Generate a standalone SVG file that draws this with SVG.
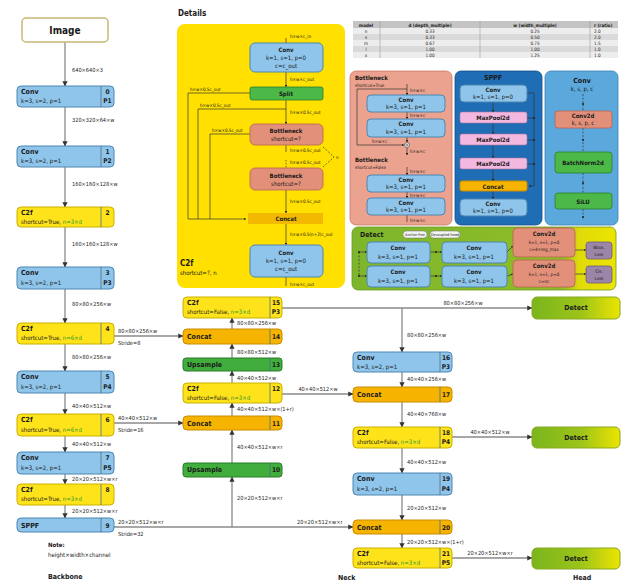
<svg xmlns="http://www.w3.org/2000/svg" width="622" height="588" viewBox="0 0 622 588">
<style>
text{font-family:"Liberation Sans Narrow","DejaVu Sans Condensed","Liberation Sans",sans-serif;fill:#1a1a1a}
.tb{font-size:7px;font-weight:bold}
.tp{font-size:6px}
.tn{font-size:6.5px;font-weight:bold;text-anchor:middle}
.dim{font-size:5.6px}
.sm{font-size:4.6px}
.mid{text-anchor:middle}
.g{fill:#2e9a2e}
.conv{fill:#8fc5ea;stroke:#4d86b3;stroke-width:1}
.c2f{fill:#ffe31a;stroke:#c9b000;stroke-width:1}
.concat{fill:#f6b400;stroke:#c98c00;stroke-width:1}
.up{fill:#40ad3c;stroke:#2b7d28;stroke-width:1}
.det{fill:url(#gdet);stroke:#8aa820;stroke-width:1}
.salmon{fill:#e3907a;stroke:#b7624f;stroke-width:0.8}
.pink{fill:#f2b8e0;stroke:#b07aa0;stroke-width:0.6}
.green{fill:#4cb848;stroke:#2b7d28;stroke-width:0.8}
.loss{fill:#9c86a8;stroke:#6e5a7c;stroke-width:0.8}
.div{stroke:#4d6f8a;stroke-width:0.8}
.ln{stroke:#8a8a8a;stroke-width:1.3;fill:none}
.lk{stroke:#333;stroke-width:0.7;fill:none}
.ld{stroke:#333;stroke-width:0.7;fill:none;stroke-dasharray:2 1.5}
</style>
<defs>
<marker id="ar" viewBox="0 0 6 6" refX="5.5" refY="3" markerWidth="4" markerHeight="4" orient="auto"><path d="M0,0L6,3L0,6z" fill="#333"/></marker>
<marker id="as" viewBox="0 0 6 6" refX="5.5" refY="3" markerWidth="3" markerHeight="3" orient="auto"><path d="M0,0L6,3L0,6z" fill="#222"/></marker>
<linearGradient id="gdet" x1="0" y1="0" x2="1" y2="0"><stop offset="0" stop-color="#7ab51d"/><stop offset="0.55" stop-color="#9cc41a"/><stop offset="1" stop-color="#ece400"/></linearGradient>
<linearGradient id="gpan" x1="0" y1="0" x2="1" y2="0"><stop offset="0" stop-color="#7db52c"/><stop offset="0.8" stop-color="#8fbd26"/><stop offset="0.86" stop-color="#e0da0a"/><stop offset="1" stop-color="#ece400"/></linearGradient>
</defs>

<!-- Connectors -->
<g id="connectors">
<g class="ln" marker-end="url(#ar)">
<line x1="65" y1="42" x2="65" y2="86"/>
<line x1="65" y1="107" x2="65" y2="146"/>
<line x1="65" y1="167" x2="65" y2="207"/>
<line x1="65" y1="227" x2="65" y2="267"/>
<line x1="65" y1="289" x2="65" y2="323"/>
<line x1="65" y1="344" x2="65" y2="371"/>
<line x1="65" y1="393" x2="65" y2="414"/>
<line x1="65" y1="436" x2="65" y2="452"/>
<line x1="65" y1="474" x2="65" y2="484"/>
<line x1="65" y1="505" x2="65" y2="518"/>
<line x1="114" y1="336" x2="183" y2="336"/>
<line x1="114" y1="423" x2="183" y2="423"/>
<line x1="114" y1="527" x2="353" y2="527"/>
<line x1="232" y1="527" x2="232" y2="477"/>
<line x1="232" y1="463" x2="232" y2="430"/>
<line x1="232" y1="416" x2="232" y2="403"/>
<line x1="232" y1="383" x2="232" y2="371"/>
<line x1="232" y1="358" x2="232" y2="344"/>
<line x1="232" y1="329" x2="232" y2="318"/>
<line x1="282" y1="308" x2="532" y2="308"/>
<line x1="282" y1="394" x2="353" y2="394"/>
<line x1="402" y1="308" x2="402" y2="352"/>
<line x1="402" y1="372" x2="402" y2="387"/>
<line x1="402" y1="402" x2="402" y2="427"/>
<line x1="402" y1="448" x2="402" y2="473"/>
<line x1="402" y1="495" x2="402" y2="520"/>
<line x1="402" y1="534" x2="402" y2="548"/>
<line x1="452" y1="437" x2="532" y2="437"/>
<line x1="452" y1="558" x2="532" y2="558"/>
</g>
<g class="dim">
<text x="72" y="72">640×640×3</text>
<text x="72" y="122">320×320×64×w</text>
<text x="72" y="186">160×160×128×w</text>
<text x="72" y="246">160×160×128×w</text>
<text x="72" y="306">80×80×256×w</text>
<text x="72" y="359">80×80×256×w</text>
<text x="72" y="408">40×40×512×w</text>
<text x="72" y="446">40×40×512×w</text>
<text x="72" y="481">20×20×512×w×r</text>
<text x="72" y="513">20×20×512×w×r</text>
<text x="118" y="333">80×80×256×w</text>
<text x="118" y="345">Stride=8</text>
<text x="118" y="420">40×40×512×w</text>
<text x="118" y="432">Stride=16</text>
<text x="118" y="524">20×20×512×w×r</text>
<text x="118" y="536">Stride=32</text>
<text x="297" y="524">20×20×512×w×r</text>
<text x="237" y="325">80×80×256×w</text>
<text x="237" y="354">80×80×512×w</text>
<text x="237" y="380">40×40×512×w</text>
<text x="237" y="411">40×40×512×w×(1+r)</text>
<text x="237" y="449">40×40×512×w×r</text>
<text x="237" y="500">20×20×512×w×r</text>
<text x="318" y="391" class="mid">40×40×512×w</text>
<text x="463" y="305" class="mid">80×80×256×w</text>
<text x="407" y="337">80×80×256×w</text>
<text x="407" y="381">40×40×256×w</text>
<text x="407" y="416">40×40×768×w</text>
<text x="407" y="464">40×40×512×w</text>
<text x="407" y="510">20×20×512×w</text>
<text x="407" y="544">20×20×512×w×(1+r)</text>
<text x="490" y="434" class="mid">40×40×512×w</text>
<text x="490" y="555" class="mid">20×20×512×w×r</text>
</g>
</g>

<!-- Backbone -->
<g id="image"><rect x="22" y="18" width="86" height="24" rx="4" fill="#fff" stroke="#c8b878" stroke-width="1.5"/><text x="65" y="34" class="mid" style="font-size:10px;font-weight:bold">Image</text></g>
<g id="b0"><rect class="conv" x="17" y="86" width="97" height="21" rx="4"/><line class="div" x1="101" y1="86" x2="101" y2="107"/><text class="tb" x="21" y="94">Conv</text><text class="tp" x="21" y="103">k=3, s=2, p=1</text><text class="tn" x="107.5" y="94">0</text><text class="tn" x="107.5" y="103">P1</text></g>
<g id="b1"><rect class="conv" x="17" y="146" width="97" height="21" rx="4"/><line class="div" x1="101" y1="146" x2="101" y2="167"/><text class="tb" x="21" y="154">Conv</text><text class="tp" x="21" y="163">k=3, s=2, p=1</text><text class="tn" x="107.5" y="154">1</text><text class="tn" x="107.5" y="163">P2</text></g>
<g id="b2"><rect class="c2f" x="17" y="207" width="97" height="20" rx="4"/><line class="div" x1="101" y1="207" x2="101" y2="227"/><text class="tb" x="21" y="215">C2f</text><text class="tp" x="21" y="224">shortcut=True, <tspan class="g">n=3×d</tspan></text><text class="tn" x="107.5" y="215">2</text></g>
<g id="b3"><rect class="conv" x="17" y="267" width="97" height="22" rx="4"/><line class="div" x1="101" y1="267" x2="101" y2="289"/><text class="tb" x="21" y="275">Conv</text><text class="tp" x="21" y="285">k=3, s=2, p=1</text><text class="tn" x="107.5" y="275">3</text><text class="tn" x="107.5" y="285">P3</text></g>
<g id="b4"><rect class="c2f" x="17" y="323" width="97" height="21" rx="4"/><line class="div" x1="101" y1="323" x2="101" y2="344"/><text class="tb" x="21" y="331">C2f</text><text class="tp" x="21" y="340">shortcut=True, <tspan class="g">n=6×d</tspan></text><text class="tn" x="107.5" y="331">4</text></g>
<g id="b5"><rect class="conv" x="17" y="371" width="97" height="22" rx="4"/><line class="div" x1="101" y1="371" x2="101" y2="393"/><text class="tb" x="21" y="379">Conv</text><text class="tp" x="21" y="389">k=3, s=2, p=1</text><text class="tn" x="107.5" y="379">5</text><text class="tn" x="107.5" y="389">P4</text></g>
<g id="b6"><rect class="c2f" x="17" y="414" width="97" height="22" rx="4"/><line class="div" x1="101" y1="414" x2="101" y2="436"/><text class="tb" x="21" y="422">C2f</text><text class="tp" x="21" y="432">shortcut=True, <tspan class="g">n=6×d</tspan></text><text class="tn" x="107.5" y="422">6</text></g>
<g id="b7"><rect class="conv" x="17" y="452" width="97" height="22" rx="4"/><line class="div" x1="101" y1="452" x2="101" y2="474"/><text class="tb" x="21" y="460">Conv</text><text class="tp" x="21" y="470">k=3, s=2, p=1</text><text class="tn" x="107.5" y="460">7</text><text class="tn" x="107.5" y="470">P5</text></g>
<g id="b8"><rect class="c2f" x="17" y="484" width="97" height="21" rx="4"/><line class="div" x1="101" y1="484" x2="101" y2="505"/><text class="tb" x="21" y="492">C2f</text><text class="tp" x="21" y="501">shortcut=True, <tspan class="g">n=3×d</tspan></text><text class="tn" x="107.5" y="492">8</text></g>
<g id="b9"><rect class="conv" x="17" y="518" width="97" height="14" rx="4"/><line class="div" x1="101" y1="518" x2="101" y2="532"/><text class="tb" x="21" y="528">SPPF</text><text class="tn" x="107.5" y="528">9</text></g>
<g id="note"><text class="tp" x="48" y="547" style="font-weight:bold">Note:</text><text class="tp" x="48" y="557">height×width×channel</text></g>
<text x="48" y="579" style="font-size:7px;font-weight:bold">Backbone</text>
<text x="338" y="580" style="font-size:7px;font-weight:bold">Neck</text>
<text x="573" y="580" style="font-size:7px;font-weight:bold">Head</text>

<!-- Neck left -->
<g id="n15"><rect class="c2f" x="183" y="297" width="99" height="21" rx="4"/><line class="div" x1="270" y1="297" x2="270" y2="318"/><text class="tb" x="187" y="305">C2f</text><text class="tp" x="187" y="314">shortcut=False, <tspan class="g">n=3×d</tspan></text><text class="tn" x="276" y="305">15</text><text class="tn" x="276" y="314">P3</text></g>
<g id="n14"><rect class="concat" x="183" y="329" width="99" height="15" rx="4"/><line class="div" x1="270" y1="329" x2="270" y2="344"/><text class="tb" x="187" y="339">Concat</text><text class="tn" x="276" y="339">14</text></g>
<g id="n13"><rect class="up" x="183" y="358" width="99" height="13" rx="3"/><line class="div" x1="270" y1="358" x2="270" y2="371"/><text class="tb" x="187" y="367">Upsample</text><text class="tn" x="276" y="367">13</text></g>
<g id="n12"><rect class="c2f" x="183" y="383" width="99" height="20" rx="4"/><line class="div" x1="270" y1="383" x2="270" y2="403"/><text class="tb" x="187" y="391">C2f</text><text class="tp" x="187" y="400">shortcut=False, <tspan class="g">n=3×d</tspan></text><text class="tn" x="276" y="391">12</text></g>
<g id="n11"><rect class="concat" x="183" y="416" width="99" height="14" rx="4"/><line class="div" x1="270" y1="416" x2="270" y2="430"/><text class="tb" x="187" y="426">Concat</text><text class="tn" x="276" y="426">11</text></g>
<g id="n10"><rect class="up" x="183" y="463" width="99" height="14" rx="3"/><line class="div" x1="270" y1="463" x2="270" y2="477"/><text class="tb" x="187" y="472">Upsample</text><text class="tn" x="276" y="472">10</text></g>

<!-- Neck right -->
<g id="n16"><rect class="conv" x="353" y="352" width="99" height="20" rx="4"/><line class="div" x1="440" y1="352" x2="440" y2="372"/><text class="tb" x="357" y="360">Conv</text><text class="tp" x="357" y="369">k=3, s=2, p=1</text><text class="tn" x="446" y="360">16</text><text class="tn" x="446" y="369">P3</text></g>
<g id="n17"><rect class="concat" x="353" y="387" width="99" height="15" rx="4"/><line class="div" x1="440" y1="387" x2="440" y2="402"/><text class="tb" x="357" y="397">Concat</text><text class="tn" x="446" y="397">17</text></g>
<g id="n18"><rect class="c2f" x="353" y="427" width="99" height="21" rx="4"/><line class="div" x1="440" y1="427" x2="440" y2="448"/><text class="tb" x="357" y="435">C2f</text><text class="tp" x="357" y="444">shortcut=False, <tspan class="g">n=3×d</tspan></text><text class="tn" x="446" y="435">18</text><text class="tn" x="446" y="444">P4</text></g>
<g id="n19"><rect class="conv" x="353" y="473" width="99" height="22" rx="4"/><line class="div" x1="440" y1="473" x2="440" y2="495"/><text class="tb" x="357" y="481">Conv</text><text class="tp" x="357" y="491">k=3, s=2, p=1</text><text class="tn" x="446" y="481">19</text><text class="tn" x="446" y="491">P4</text></g>
<g id="n20"><rect class="concat" x="353" y="520" width="99" height="14" rx="4"/><line class="div" x1="440" y1="520" x2="440" y2="534"/><text class="tb" x="357" y="530">Concat</text><text class="tn" x="446" y="530">20</text></g>
<g id="n21"><rect class="c2f" x="353" y="548" width="99" height="20" rx="4"/><line class="div" x1="440" y1="548" x2="440" y2="568"/><text class="tb" x="357" y="556">C2f</text><text class="tp" x="357" y="565">shortcut=False, <tspan class="g">n=3×d</tspan></text><text class="tn" x="446" y="556">21</text><text class="tn" x="446" y="565">P5</text></g>

<!-- Head -->
<g id="d1"><rect class="det" x="532" y="297" width="88" height="22" rx="5"/><text class="tb mid" x="576" y="310">Detect</text></g>
<g id="d2"><rect class="det" x="532" y="427" width="88" height="21" rx="5"/><text class="tb mid" x="576" y="440">Detect</text></g>
<g id="d3"><rect class="det" x="532" y="548" width="88" height="21" rx="5"/><text class="tb mid" x="576" y="561">Detect</text></g>

<!-- Details: C2f -->
<text x="178" y="16" style="font-size:8px;font-weight:bold">Details</text>
<g id="det-c2f">
<rect x="177" y="24" width="168" height="264" rx="8" fill="#ffe000"/>
<g class="lk" marker-end="url(#as)">
<line x1="286" y1="72" x2="286" y2="87"/>
<line x1="286" y1="100" x2="286" y2="124"/>
<line x1="286" y1="190" x2="286" y2="213"/>
<line x1="286" y1="224" x2="286" y2="245"/>
<polyline points="188,219 246,219"/>
</g>
<g class="lk">
<polyline points="250,93 188,93 188,219"/>
<polyline points="286,109 198,109 198,219"/>
<polyline points="250,134 210,134 210,219"/>
<line x1="286" y1="145" x2="286" y2="152"/>
<line x1="286" y1="160" x2="286" y2="168" stroke-dasharray="1.5 1.5"/>
<line x1="286" y1="38" x2="286" y2="43"/>
<line x1="286" y1="277" x2="286" y2="286"/>
</g>
<polyline class="ld" points="323,147 334,157 323,167"/>
<text class="sm" x="336" y="159">n</text>
<g class="sm">
<text x="290" y="38">h×w×c_in</text>
<text x="290" y="81">h×w×c_out</text>
<text x="190" y="91">h×w×0.5c_out</text>
<text x="200" y="107">h×w×0.5c_out</text>
<text x="212" y="132">h×w×0.5c_out</text>
<text x="290" y="114">h×w×0.5c_out</text>
<text x="290" y="152">h×w×0.5c_out</text>
<text x="290" y="164">h×w×0.5c_out</text>
<text x="290" y="203">h×w×0.5c_out</text>
<text x="290" y="236">h×w×0.5(n+2)c_out</text>
<text x="290" y="286">h×w×c_out</text>
</g>
<rect class="conv" x="250" y="43" width="73" height="29" rx="5"/>
<text class="tp mid" x="286" y="52" style="font-weight:bold">Conv</text><text class="tp mid" x="286" y="60">k=1, s=1, p=0</text><text class="tp mid" x="286" y="68">c=c_out</text>
<rect class="green" x="250" y="87" width="73" height="13" rx="2"/>
<text class="tp mid" x="286" y="96" style="font-weight:bold">Split</text>
<rect class="salmon" x="250" y="124" width="73" height="21" rx="5"/>
<text class="tp mid" x="286" y="133" style="font-weight:bold">Bottleneck</text><text class="tp mid" x="286" y="141">shortcut=?</text>
<rect class="salmon" x="250" y="168" width="73" height="22" rx="5"/>
<text class="tp mid" x="286" y="178" style="font-weight:bold">Bottleneck</text><text class="tp mid" x="286" y="186">shortcut=?</text>
<rect x="248" y="213" width="75" height="11" fill="#f3b800"/>
<text class="tp mid" x="286" y="221" style="font-weight:bold">Concat</text>
<rect class="conv" x="250" y="245" width="73" height="32" rx="5"/>
<text class="tp mid" x="286" y="255" style="font-weight:bold">Conv</text><text class="tp mid" x="286" y="263">k=1, s=1, p=0</text><text class="tp mid" x="286" y="271">c=c_out</text>
<text x="180" y="266" style="font-size:8px;font-weight:bold">C2f</text>
<text class="tp" x="180" y="275">shortcut=?, n</text>
</g>

<!-- Table -->
<g id="table">
<rect x="353" y="21" width="265" height="7" fill="#c4c4c4"/>
<rect x="353" y="28" width="265" height="6" fill="#ededed"/>
<rect x="353" y="34" width="265" height="6" fill="#dadada"/>
<rect x="353" y="40" width="265" height="6" fill="#ededed"/>
<rect x="353" y="46" width="265" height="6" fill="#dadada"/>
<rect x="353" y="52" width="265" height="6" fill="#ededed"/>
<g stroke="#9a9a9a" stroke-width="0.6"><line x1="380" y1="21" x2="380" y2="58"/><line x1="480" y1="21" x2="480" y2="58"/><line x1="590" y1="21" x2="590" y2="58"/></g>
<g class="sm">
<text class="mid" x="366" y="26.5" style="font-weight:bold">model</text>
<text class="mid" x="430" y="26.5" style="font-weight:bold">d (depth_multiple)</text>
<text class="mid" x="535" y="26.5" style="font-weight:bold">w (width_multiple)</text>
<text x="594" y="26.5" style="font-weight:bold">r (ratio)</text>
<text class="mid" x="366" y="33">n</text><text class="mid" x="430" y="33">0.33</text><text class="mid" x="535" y="33">0.25</text><text x="594" y="33">2.0</text>
<text class="mid" x="366" y="39">s</text><text class="mid" x="430" y="39">0.33</text><text class="mid" x="535" y="39">0.50</text><text x="594" y="39">2.0</text>
<text class="mid" x="366" y="45">m</text><text class="mid" x="430" y="45">0.67</text><text class="mid" x="535" y="45">0.75</text><text x="594" y="45">1.5</text>
<text class="mid" x="366" y="51">l</text><text class="mid" x="430" y="51">1.00</text><text class="mid" x="535" y="51">1.00</text><text x="594" y="51">1.0</text>
<text class="mid" x="366" y="57">x</text><text class="mid" x="430" y="57">1.00</text><text class="mid" x="535" y="57">1.25</text><text x="594" y="57">1.0</text>
</g>
</g>

<!-- Details: Bottleneck -->
<g id="det-bottleneck">
<rect x="350" y="71" width="102" height="154" rx="6" fill="#eba28e" stroke="#c87a66" stroke-width="0.8"/>
<text class="tp" x="355" y="80" style="font-weight:bold">Bottleneck</text>
<text class="sm" x="355" y="87">shortcut=True</text>
<g class="lk" marker-end="url(#as)">
<line x1="407" y1="84" x2="407" y2="95"/>
<line x1="407" y1="112" x2="407" y2="119"/>
<line x1="407" y1="137" x2="407" y2="142"/>
<polyline points="407,89 357,89 357,145 404,145"/>
<line x1="407" y1="148" x2="407" y2="155"/>
<line x1="407" y1="167" x2="407" y2="175"/>
<line x1="407" y1="192" x2="407" y2="198"/>
</g>
<line class="lk" x1="407" y1="215" x2="407" y2="222"/>
<circle cx="407" cy="145" r="2.5" fill="#fff" stroke="#333" stroke-width="0.6"/>
<path d="M405.5,145h3M407,143.5v3" stroke="#333" stroke-width="0.6"/>
<g class="sm">
<text x="410" y="92">h×w×c</text>
<text x="410" y="117">h×w×c</text>
<text x="372" y="143">h×w×c</text>
<text x="410" y="153">h×w×c</text>
<text x="410" y="173">h×w×c</text>
<text x="410" y="197">h×w×c</text>
<text x="410" y="222">h×w×c</text>
</g>
<text class="tp" x="355" y="162" style="font-weight:bold">Bottleneck</text>
<text class="sm" x="355" y="169">shortcut=False</text>
<rect class="conv" x="367" y="95" width="78" height="17" rx="4"/><text class="tp mid" x="406" y="102" style="font-weight:bold">Conv</text><text class="tp mid" x="406" y="109">k=3, s=1, p=1</text>
<rect class="conv" x="367" y="119" width="78" height="18" rx="4"/><text class="tp mid" x="406" y="126" style="font-weight:bold">Conv</text><text class="tp mid" x="406" y="134">k=3, s=1, p=1</text>
<rect class="conv" x="367" y="175" width="78" height="17" rx="4"/><text class="tp mid" x="406" y="182" style="font-weight:bold">Conv</text><text class="tp mid" x="406" y="189">k=3, s=1, p=1</text>
<rect class="conv" x="367" y="198" width="78" height="17" rx="4"/><text class="tp mid" x="406" y="205" style="font-weight:bold">Conv</text><text class="tp mid" x="406" y="212">k=3, s=1, p=1</text>
</g>

<!-- Details: SPPF -->
<g id="det-sppf">
<rect x="455" y="71" width="87" height="154" rx="6" fill="#1f6db5" stroke="#154e85" stroke-width="0.8"/>
<text class="tb mid" x="493" y="80">SPPF</text>
<g class="lk" marker-end="url(#as)">
<line x1="493" y1="102" x2="493" y2="112"/>
<line x1="493" y1="123" x2="493" y2="134"/>
<line x1="493" y1="145" x2="493" y2="158"/>
<line x1="493" y1="169" x2="493" y2="181"/>
<line x1="493" y1="191" x2="493" y2="199"/>
<polyline points="534,118 534,186 529,186"/>
</g>
<g class="lk"><line x1="527" y1="93" x2="534" y2="93"/><line x1="534" y1="93" x2="534" y2="118"/><line x1="527" y1="118" x2="534" y2="118"/><line x1="527" y1="140" x2="534" y2="140"/><line x1="527" y1="164" x2="534" y2="164"/></g>
<g fill="#222"><circle cx="534" cy="118" r="1"/><circle cx="534" cy="140" r="1"/><circle cx="534" cy="164" r="1"/></g>
<rect class="conv" x="460" y="85" width="67" height="17" rx="4"/><text class="tp mid" x="493" y="92" style="font-weight:bold">Conv</text><text class="tp mid" x="493" y="99">k=1, s=1, p=0</text>
<rect class="pink" x="460" y="112" width="67" height="11" rx="2"/><text class="tp mid" x="493" y="120" style="font-weight:bold">MaxPool2d</text>
<rect class="pink" x="460" y="134" width="67" height="11" rx="2"/><text class="tp mid" x="493" y="142" style="font-weight:bold">MaxPool2d</text>
<rect class="pink" x="460" y="158" width="67" height="11" rx="2"/><text class="tp mid" x="493" y="166" style="font-weight:bold">MaxPool2d</text>
<rect class="concat" x="460" y="181" width="67" height="10" rx="2"/><text class="tp mid" x="493" y="188.5" style="font-weight:bold">Concat</text>
<rect class="conv" x="460" y="199" width="67" height="17" rx="4"/><text class="tp mid" x="493" y="206" style="font-weight:bold">Conv</text><text class="tp mid" x="493" y="213">k=1, s=1, p=0</text>
</g>

<!-- Details: Conv -->
<g id="det-conv">
<rect x="545" y="71" width="73" height="154" rx="6" fill="#5ba9dc" stroke="#3d82b5" stroke-width="0.8"/>
<text class="tb mid" x="582" y="83">Conv</text>
<text class="tp mid" x="582" y="91">k, s, p, c</text>
<g class="ld"><line x1="583" y1="94" x2="583" y2="111"/><line x1="583" y1="128" x2="583" y2="152"/><line x1="583" y1="173" x2="583" y2="193"/><line x1="583" y1="209" x2="583" y2="220"/></g>
<g fill="#222"><circle cx="583" cy="104" r="1"/><circle cx="583" cy="140" r="1"/><circle cx="583" cy="183" r="1"/><circle cx="583" cy="217" r="1"/></g>
<rect class="salmon" x="555" y="111" width="57" height="17" rx="3"/><text class="tp mid" x="583" y="118" style="font-weight:bold">Conv2d</text><text class="tp mid" x="583" y="125">k, s, p, c</text>
<rect class="green" x="555" y="152" width="57" height="21" rx="3"/><text class="tp mid" x="583" y="165" style="font-weight:bold">BatchNorm2d</text>
<rect class="green" x="555" y="193" width="57" height="16" rx="3"/><text class="tp mid" x="583" y="203.5" style="font-weight:bold">SiLU</text>
</g>

<!-- Details: Detect -->
<g id="det-detect">
<rect x="352" y="227" width="264" height="63" rx="6" fill="url(#gpan)" stroke="#6a9a20" stroke-width="0.8"/>
<text class="tb" x="360" y="237">Detect</text>
<rect x="403" y="231" width="24" height="7" rx="3.5" fill="#f4f4f4" stroke="#777" stroke-width="0.5"/><text class="mid" x="415" y="236.2" style="font-size:3.8px">Anchor-free</text>
<rect x="430" y="231" width="30" height="7" rx="3.5" fill="#f4f4f4" stroke="#777" stroke-width="0.5"/><text class="mid" x="445" y="236.2" style="font-size:3.8px">Decoupled-head</text>
<line class="ld" x1="359" y1="252" x2="359" y2="276"/>
<g class="lk" marker-end="url(#as)">
<line x1="359" y1="252" x2="367" y2="252"/><line x1="359" y1="276" x2="367" y2="276"/>
<line x1="430" y1="252" x2="442" y2="252"/><line x1="430" y1="276" x2="442" y2="276"/>
<line x1="507" y1="252" x2="513" y2="246"/><line x1="507" y1="276" x2="513" y2="274"/>
<line x1="575" y1="250" x2="586" y2="250"/><line x1="575" y1="274" x2="586" y2="274"/>
</g>
<g fill="#222"><circle cx="359" cy="252" r="1"/><circle cx="359" cy="276" r="1"/><circle cx="436" cy="252" r="1"/><circle cx="436" cy="276" r="1"/></g>
<rect class="conv" x="367" y="242" width="63" height="21" rx="4"/><text class="tp mid" x="398" y="250" style="font-weight:bold">Conv</text><text class="tp mid" x="398" y="259">k=3, s=1, p=1</text>
<rect class="conv" x="442" y="242" width="65" height="21" rx="4"/><text class="tp mid" x="474" y="250" style="font-weight:bold">Conv</text><text class="tp mid" x="474" y="259">k=3, s=1, p=1</text>
<rect class="conv" x="367" y="266" width="63" height="21" rx="4"/><text class="tp mid" x="398" y="274" style="font-weight:bold">Conv</text><text class="tp mid" x="398" y="283">k=3, s=1, p=1</text>
<rect class="conv" x="442" y="266" width="65" height="21" rx="4"/><text class="tp mid" x="474" y="274" style="font-weight:bold">Conv</text><text class="tp mid" x="474" y="283">k=3, s=1, p=1</text>
<rect class="salmon" x="513" y="228" width="62" height="29" rx="4"/><text class="tp mid" x="544" y="236" style="font-weight:bold">Conv2d</text><text class="sm mid" x="544" y="244">k=1, s=1, p=0</text><text class="sm mid" x="544" y="251">c=4×reg_max</text>
<rect class="salmon" x="513" y="260" width="62" height="27" rx="4"/><text class="tp mid" x="544" y="268" style="font-weight:bold">Conv2d</text><text class="sm mid" x="544" y="276">k=1, s=1, p=0</text><text class="sm mid" x="544" y="283">c=nc</text>
<rect class="loss" x="586" y="242" width="26" height="17" rx="3"/><text class="sm mid" x="599" y="249">Bbox.</text><text class="sm mid" x="599" y="256">Loss</text>
<rect class="loss" x="586" y="266" width="26" height="17" rx="3"/><text class="sm mid" x="599" y="273">Cls.</text><text class="sm mid" x="599" y="280">Loss</text>
</g>
</svg>
